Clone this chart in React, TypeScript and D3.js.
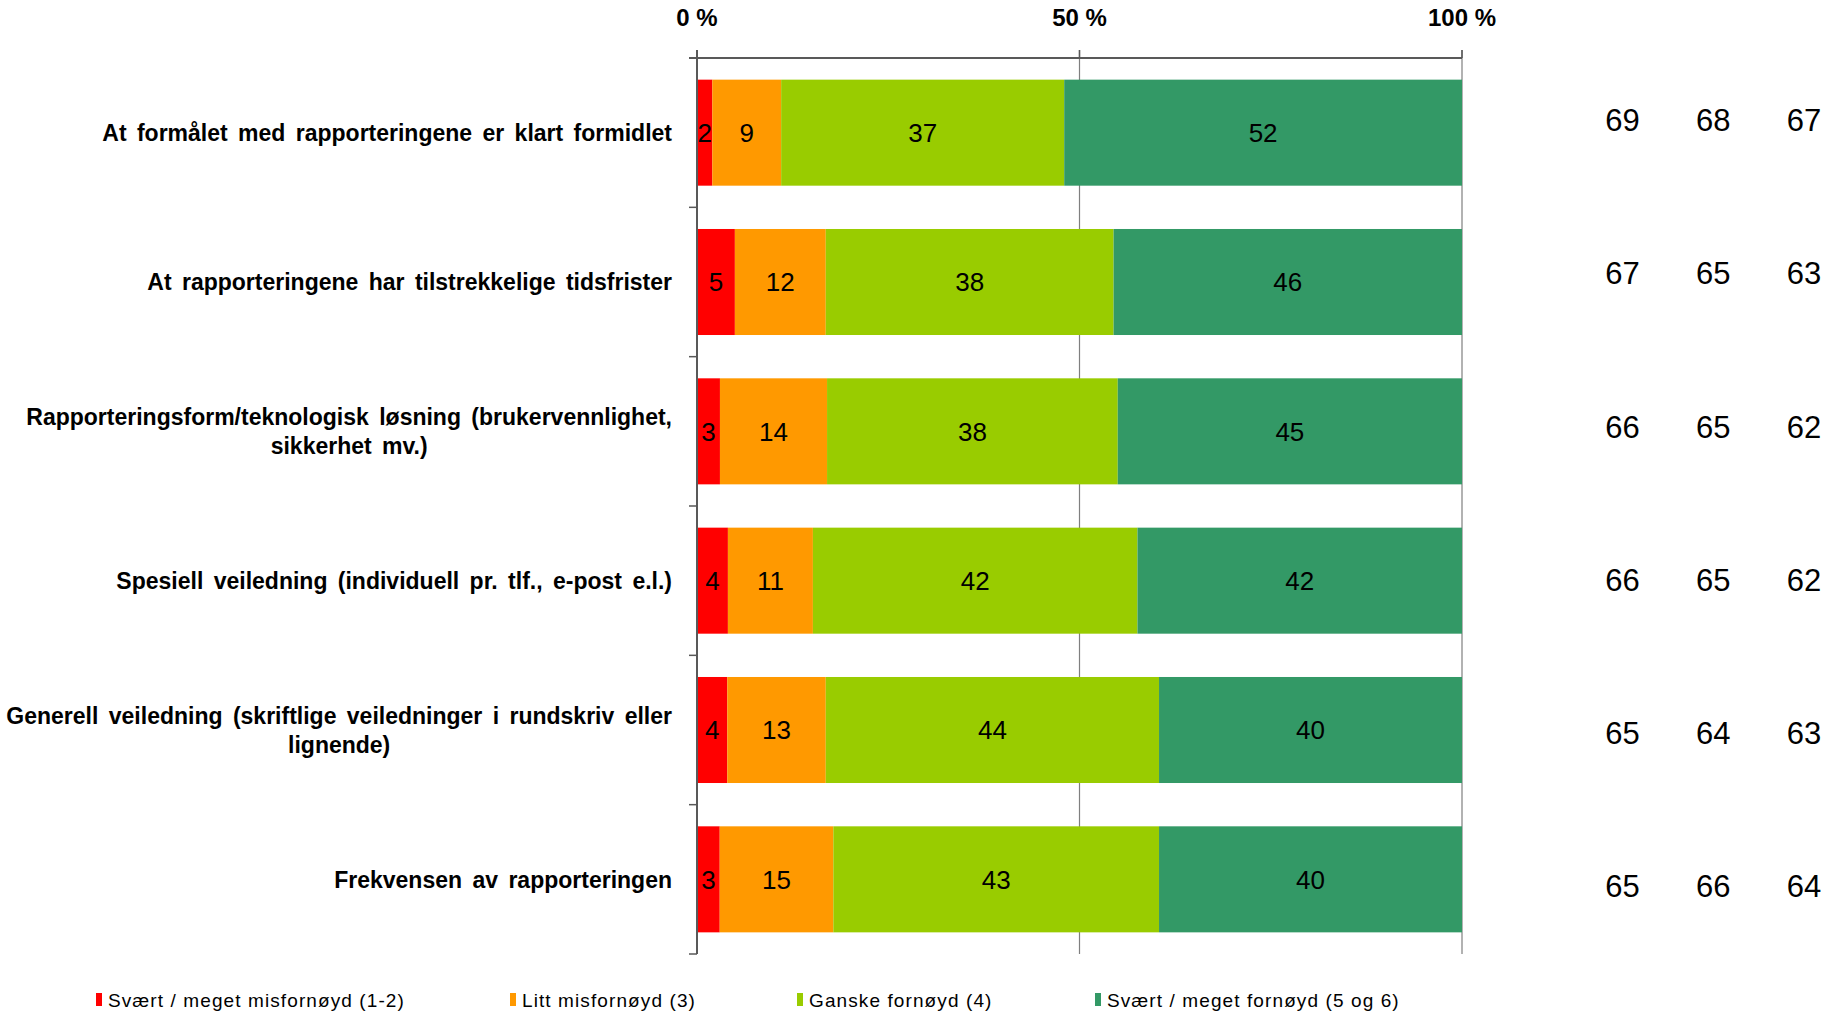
import * as d3 from "d3";

// categories (top to bottom), each split into display lines
const categories = [
  "At formålet med rapporteringene er klart formidlet",
  "At rapporteringene har tilstrekkelige tidsfrister",
  "Rapporteringsform/teknologisk løsning (brukervennlighet, sikkerhet mv.)",
  "Spesiell veiledning (individuell pr. tlf., e-post e.l.)",
  "Generell veiledning (skriftlige veiledninger i rundskriv eller lignende)",
  "Frekvensen av rapporteringen",
];
const categoryLines = [
  ["At formålet med rapporteringene er klart formidlet"],
  ["At rapporteringene har tilstrekkelige tidsfrister"],
  ["Rapporteringsform/teknologisk løsning (brukervennlighet,", "sikkerhet mv.)"],
  ["Spesiell veiledning (individuell pr. tlf., e-post e.l.)"],
  ["Generell veiledning (skriftlige veiledninger i rundskriv eller", "lignende)"],
  ["Frekvensen av rapporteringen"],
];

const seriesNames = [
  "Svært / meget misfornøyd (1-2)",
  "Litt misfornøyd (3)",
  "Ganske fornøyd (4)",
  "Svært / meget fornøyd (5 og 6)",
];
const seriesColors = ["#FF0000", "#FF9900", "#99CC00", "#339966"];

const veryDissatisfied = [2, 5, 3, 4, 4, 3];
const slightlyDissatisfied = [9, 12, 14, 11, 13, 15];
const fairlySatisfied = [37, 38, 38, 42, 44, 43];
const verySatisfied = [52, 46, 45, 42, 40, 40];

// index values shown to the right of the bars (three columns)
const indexColumns = ["c1", "c2", "c3"];
const indexCol1 = [69, 67, 66, 66, 65, 65];
const indexCol2 = [68, 65, 65, 65, 64, 66];
const indexCol3 = [67, 63, 62, 62, 63, 64];

const xTicks = [0, 50, 100];

const W = 1833;
const H = 1012;
const FONT = "'Liberation Sans', Arial, sans-serif";
const LABEL_SIZE = 23;
const WORD_SP = 4;

let canvas: HTMLCanvasElement | null = null;
function textWidth(s: string) {
  if (!canvas) canvas = document.createElement("canvas");
  const ctx = canvas.getContext("2d")!;
  ctx.font = `bold ${LABEL_SIZE}px ${FONT}`;
  const spaces = (s.match(/ /g) || []).length;
  return ctx.measureText(s).width + spaces * WORD_SP;
}

export default function App() {
  const x = d3.scaleLinear().domain([0, 100]).range([697, 1462]);
  const y = d3.scaleBand<string>().domain(categories).range([58, 954]).paddingInner(0.29).paddingOuter(0.145);
  const yIdx = d3.scalePoint<string>().domain(categories).range([120, 886]);
  const xIdx = d3.scalePoint<string>().domain(indexColumns).range([1622.5, 1804]);

  const rows = categories.map((c, i) => {
    const vals = [veryDissatisfied[i], slightlyDissatisfied[i], fairlySatisfied[i], verySatisfied[i]];
    const sum = d3.sum(vals);
    const obj: any = { cat: c };
    vals.forEach((v, k) => (obj["s" + k] = (v / sum) * 100));
    obj.raw = vals;
    return obj;
  });
  const keys = ["s0", "s1", "s2", "s3"];
  const stacked = d3.stack<any>().keys(keys)(rows);
  const idxData = [indexCol1, indexCol2, indexCol3];

  const step = y.step();
  const boundaries = d3.range(categories.length + 1).map((i) => 58 + i * step);
  const labelRight = 672;

  const legendX = [96, 510, 797, 1095];

  return (
    <svg width={W} height={H} style={{ position: "absolute", left: 0, top: 0, background: "#fff" }}>
      {/* gridlines */}
      {xTicks.slice(1).map((t) => (
        <line key={t} x1={x(t)} x2={x(t)} y1={50} y2={954} stroke="#7f7f7f" strokeWidth={1.2} />
      ))}
      {/* bars */}
      {stacked.map((s, k) => (
        <g key={s.key} fill={seriesColors[k]}>
          {s.map((d, i) => (
            <rect
              key={i}
              x={x(d[0])}
              y={y(categories[i])!}
              width={x(d[1]) - x(d[0])}
              height={y.bandwidth()}
            />
          ))}
        </g>
      ))}
      {/* bar labels */}
      {stacked.map((s, k) => (
        <g key={"l" + s.key} fontFamily={FONT} fontSize={26} textAnchor="middle" fill="#000">
          {s.map((d, i) => (
            <text key={i} x={(x(d[0]) + x(d[1])) / 2} y={y(categories[i])! + y.bandwidth() / 2 + 9.3}>
              {rows[i].raw[k]}
            </text>
          ))}
        </g>
      ))}
      {/* top axis */}
      <line x1={689} x2={x(100)} y1={58} y2={58} stroke="#595959" strokeWidth={2} />
      {xTicks.map((t) => (
        <g key={t}>
          <line x1={x(t)} x2={x(t)} y1={50} y2={58} stroke="#595959" strokeWidth={1.5} />
          <text x={x(t)} y={26} textAnchor="middle" fontFamily={FONT} fontWeight="bold" fontSize={24}>
            {t} %
          </text>
        </g>
      ))}
      {/* left axis */}
      <line x1={697} x2={697} y1={50} y2={954} stroke="#595959" strokeWidth={2} />
      {boundaries.slice(1).map((b, i) => (
        <line key={i} x1={689} x2={697} y1={b} y2={b} stroke="#595959" strokeWidth={1.5} />
      ))}
      {/* category labels */}
      {categoryLines.map((lines, i) => {
        const maxW = d3.max(lines, textWidth)!;
        const cx = labelRight - maxW / 2;
        const cy = y(categories[i])! + y.bandwidth() / 2;
        const lh = 29;
        const y0 = cy - ((lines.length - 1) * lh) / 2 + 8.2;
        return (
          <text
            key={i}
            fontFamily={FONT}
            fontWeight="bold"
            fontSize={LABEL_SIZE}
            textAnchor="middle"
            style={{ wordSpacing: WORD_SP }}
          >
            {lines.map((l, j) => (
              <tspan key={j} x={cx} y={y0 + j * lh}>
                {l}
              </tspan>
            ))}
          </text>
        );
      })}
      {/* index columns */}
      {idxData.map((col, c) => (
        <g key={c} fontFamily={FONT} fontSize={31} textAnchor="middle">
          {col.map((v, i) => (
            <text key={i} x={xIdx(indexColumns[c])} y={yIdx(categories[i])! + 11.1}>
              {v}
            </text>
          ))}
        </g>
      ))}
      {/* legend */}
      {seriesNames.map((n, k) => (
        <g key={n} transform={`translate(${legendX[k]},0)`}>
          <rect x={0} y={993} width={6} height={13} fill={seriesColors[k]} />
          <text x={12} y={1006.5} fontFamily={FONT} fontSize={19} style={{ letterSpacing: 1.1 }}>
            {n}
          </text>
        </g>
      ))}
    </svg>
  );
}
